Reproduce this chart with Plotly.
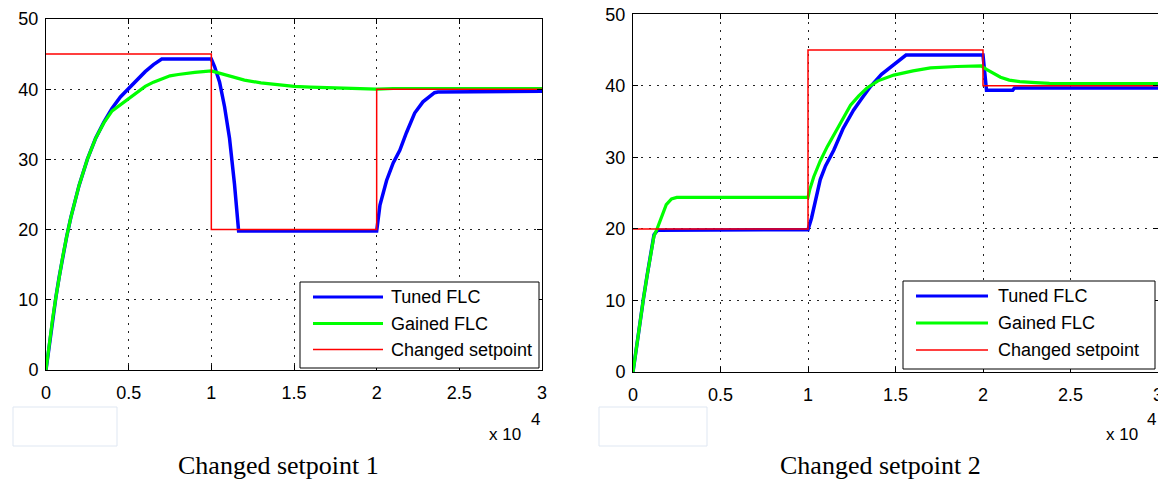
import plotly.graph_objects as go

# ---------------- data (time in units of 1e4) ----------------
# Changed setpoint 1
t1_tuned = [0, 0.02, 0.04, 0.06, 0.08, 0.10, 0.125, 0.15, 0.20, 0.25, 0.30, 0.35, 0.40, 0.45,
            0.50, 0.55, 0.60, 0.65, 0.70, 1.00, 1.02, 1.05, 1.08, 1.11, 1.14, 1.165, 2.00,
            2.02, 2.06, 2.10, 2.14, 2.18, 2.23, 2.28, 2.32, 2.35, 2.37, 3.00]
y1_tuned = [0, 3.8, 7.3, 10.4, 13.3, 16.0, 19.0, 21.7, 26.3, 30.0, 33.0, 35.3, 37.3, 38.9,
            40.1, 41.3, 42.5, 43.5, 44.3, 44.3, 43.2, 41.0, 37.5, 33.0, 26.5, 19.8, 19.8,
            23.5, 27.0, 29.5, 31.3, 33.8, 36.6, 38.2, 38.9, 39.5, 39.6, 39.7]

t1_gained = [0, 0.02, 0.04, 0.06, 0.08, 0.10, 0.125, 0.15, 0.20, 0.25, 0.30, 0.35, 0.40, 0.45,
             0.50, 0.55, 0.60, 0.65, 0.70, 0.75, 0.80, 0.85, 0.90, 1.00, 1.05, 1.10, 1.20,
             1.30, 1.40, 1.50, 1.60, 1.80, 2.00, 2.10, 3.00]
y1_gained = [0, 3.8, 7.3, 10.4, 13.3, 16.0, 19.0, 21.7, 26.3, 30.0, 33.0, 35.2, 36.9, 37.8,
             38.6, 39.6, 40.4, 41.0, 41.5, 41.9, 42.1, 42.3, 42.4, 42.6, 42.3, 41.9, 41.3,
             40.9, 40.6, 40.4, 40.3, 40.1, 40.0, 40.1, 40.1]

t1_set = [0, 1, 1, 2, 2, 3]
y1_set = [45, 45, 20, 20, 40, 40]

# Changed setpoint 2
t2_tuned = [0, 0.02, 0.04, 0.06, 0.08, 0.10, 0.12, 0.14, 0.50, 1.00, 1.02, 1.05, 1.07, 1.10,
            1.147, 1.20, 1.26, 1.30, 1.357, 1.42, 1.49, 1.56, 2.00, 2.01, 2.02, 2.17, 2.18, 3.00]
y2_tuned = [0, 3.6, 7.0, 10.3, 13.4, 16.4, 19.2, 19.8, 19.8, 19.9, 21.5, 24.5, 26.9, 28.8,
            31.0, 34.0, 36.6, 38.0, 39.9, 41.6, 42.9, 44.3, 44.3, 42.0, 39.4, 39.4, 39.7, 39.7]

t2_gained = [0, 0.02, 0.04, 0.06, 0.08, 0.10, 0.12, 0.136, 0.16, 0.19, 0.22, 0.25, 1.00, 1.01,
             1.033, 1.07, 1.11, 1.15, 1.186, 1.243, 1.29, 1.337, 1.40, 1.49, 1.60, 1.70, 1.85,
             1.99, 2.02, 2.06, 2.10, 2.15, 2.21, 2.30, 2.38, 3.00]
y2_gained = [0, 3.6, 7.0, 10.3, 13.4, 16.4, 19.0, 19.9, 21.5, 23.4, 24.2, 24.4, 24.4, 25.5,
             27.3, 29.5, 31.5, 33.3, 34.8, 37.3, 38.6, 39.7, 40.7, 41.5, 42.1, 42.5, 42.7,
             42.8, 42.3, 41.7, 41.2, 40.8, 40.6, 40.45, 40.35, 40.3]

t2_set = [0, 1, 1, 2, 2, 3]
y2_set = [20, 20, 45, 45, 40, 40]

x_ticks = [0, 0.5, 1, 1.5, 2, 2.5, 3]
x_tick_labels = ["0", "0.5", "1", "1.5", "2", "2.5", "3"]
y_ticks = [0, 10, 20, 30, 40, 50]
y_tick_labels = ["0", "10", "20", "30", "40", "50"]

series_names = ["Tuned FLC", "Gained FLC", "Changed setpoint"]
captions = ["Changed setpoint 1", "Changed setpoint 2"]

# ---------------- layout helpers ----------------
# the page body has an 8px margin, so the figure starts at screen (8, 8)
OFF = 8
W, H = 1158, 471
def px(x):
    return (x - OFF) / W
def py(y):
    return 1 - (y - OFF) / H

BLUE, GREEN, RED = "#0000ff", "#00ff00", "#ff0000"
SANS = "Liberation Sans, Arial, sans-serif"
SERIF = "Liberation Serif, Times New Roman, serif"

fig = go.Figure()

panels = [
    dict(xa="x", ya="y", data=[(t1_tuned, y1_tuned), (t1_gained, y1_gained), (t1_set, y1_set)]),
    dict(xa="x2", ya="y2", data=[(t2_tuned, y2_tuned), (t2_gained, y2_gained), (t2_set, y2_set)]),
]
styles = [(BLUE, 3.5), (GREEN, 3.2), (RED, 1.5)]
for p in panels:
    for (tx, vy), (col, w), nm in zip(p["data"], styles, series_names):
        fig.add_trace(go.Scatter(x=tx, y=vy, mode="lines", name=nm,
                                 line=dict(color=col, width=w),
                                 xaxis=p["xa"], yaxis=p["ya"], showlegend=False))

axis_common = dict(
    showline=True, linecolor="black", linewidth=1, mirror="ticks",
    ticks="inside", ticklen=5, tickcolor="black", automargin=False,
    ticklabeloverflow="allow",
    showgrid=True, gridcolor="#222222", gridwidth=1.2, griddash="2px,6px",
    zeroline=False, tickfont=dict(family=SANS, size=18, color="black"),
)

fig.update_layout(
    width=W, height=H, margin=dict(l=0, r=0, t=0, b=0, autoexpand=False),
    paper_bgcolor="white", plot_bgcolor="white",
    xaxis=dict(domain=[px(46), px(542)], range=[0, 3], tickvals=x_ticks, ticktext=x_tick_labels,
               anchor="y", ticklabelstandoff=6, **axis_common),
    yaxis=dict(domain=[py(370), py(19)], range=[0, 50], tickvals=y_ticks, ticktext=y_tick_labels,
               anchor="x", ticklabelstandoff=3, **axis_common),
    xaxis2=dict(domain=[px(633), px(1158)], range=[0, 3], tickvals=x_ticks, ticktext=x_tick_labels,
                anchor="y2", ticklabelstandoff=6, **axis_common),
    yaxis2=dict(domain=[py(372), py(14.3)], range=[0, 50], tickvals=y_ticks, ticktext=y_tick_labels,
                anchor="x2", ticklabelstandoff=3, **axis_common),
    showlegend=False,
)

shapes = []
annotations = []

# manual legends
legends = [
    dict(box=(300, 282, 539, 368), rows=(297, 323.5, 349.5), lx=(313, 383), tx=389),
    dict(box=(903, 281, 1155, 369), rows=(296, 323, 350), lx=(916, 988), tx=996),
]
for lg in legends:
    x0, y0, x1, y1 = lg["box"]
    shapes.append(dict(type="rect", xref="paper", yref="paper", x0=px(x0), y0=py(y1),
                       x1=px(x1), y1=py(y0), line=dict(color="black", width=1),
                       fillcolor="white", layer="above"))
    for ry, (col, w), nm in zip(lg["rows"], styles, series_names):
        shapes.append(dict(type="line", xref="paper", yref="paper", x0=px(lg["lx"][0]), x1=px(lg["lx"][1]),
                           y0=py(ry), y1=py(ry), line=dict(color=col, width=w if w < 3 else 3), layer="above"))
        annotations.append(dict(xref="paper", yref="paper", x=px(lg["tx"]), y=py(ry), text=nm,
                                showarrow=False, xanchor="left", yanchor="middle",
                                font=dict(family=SANS, size=18, color="black")))

# faint empty boxes under the axes
for bx0, bx1 in [(13, 117), (599, 707)]:
    shapes.append(dict(type="rect", xref="paper", yref="paper", x0=px(bx0), x1=px(bx1),
                       y0=py(446), y1=py(407), line=dict(color="#dfe7f2", width=1),
                       fillcolor="white", layer="above"))

# x 10^4 exponent labels
for xend, xexp in [(523, 535), (1140, 1151)]:
    annotations.append(dict(xref="paper", yref="paper", x=px(xend), y=py(434), text="x 10",
                            showarrow=False, xanchor="right", yanchor="middle",
                            font=dict(family=SANS, size=17, color="black")))
    annotations.append(dict(xref="paper", yref="paper", x=px(xexp), y=py(419), text="4",
                            showarrow=False, xanchor="center", yanchor="middle",
                            font=dict(family=SANS, size=17, color="black")))

# captions
for cx, cap in zip([278.5, 880], captions):
    annotations.append(dict(xref="paper", yref="paper", x=px(cx), y=py(465), text=cap,
                            showarrow=False, xanchor="center", yanchor="middle",
                            font=dict(family=SERIF, size=26, color="black")))

fig.update_layout(shapes=shapes, annotations=annotations)
fig.write_html("out.html")
